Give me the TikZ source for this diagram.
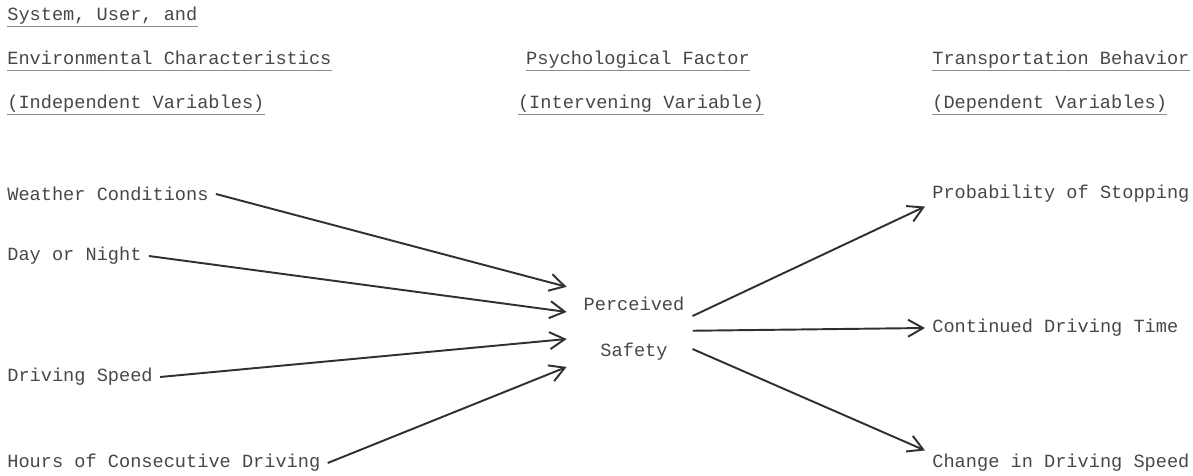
\documentclass[tikz,border=0pt]{standalone}
\usepackage{fontspec}
\setmonofont{Liberation Mono}
\usepackage{tikz}
\usetikzlibrary{arrows.meta, positioning}
\definecolor{ink}{HTML}{474747}
\definecolor{pen}{HTML}{303030}
\definecolor{rule}{HTML}{8C8C8C}

\begin{document}
\begin{tikzpicture}[x=0.02cm, y=-0.02cm,
    txt/.style={font=\ttfamily\fontsize{10.6}{12}\selectfont, text=ink},
    head/.style={txt, inner xsep=0pt, inner ysep=1pt},
    factor/.style={txt, anchor=west, inner xsep=4pt, inner ysep=2pt},
    link/.style={-{Straight Barb[length=3mm,width=3.4mm]}, pen, line width=1.1pt},
    uline/.style={rule, line width=1pt}
]
    \useasboundingbox (0,0) rectangle (1193,476);

    % column headings
    \node (h1) [head, anchor=base west] at (7,21) {System, User, and};
    \node (h2) [head, anchor=base west] at (7,65) {Environmental Characteristics};
    \node (h3) [head, anchor=base west] at (7,109) {(Independent Variables)};
    \node (h4) [head, anchor=base] at (638,65) {Psychological Factor};
    \node (h5) [head, anchor=base] at (641,109) {(Intervening Variable)};
    \node (h6) [head, anchor=base west] at (932,65) {Transportation Behavior};
    \node (h7) [head, anchor=base west] at (932,109) {(Dependent Variables)};
    \foreach \h in {h1,h2,h3,h4,h5,h6,h7}
        \draw [uline] ([yshift=-3.2pt]\h.base west) -- ([yshift=-3.2pt]\h.base east);

    % independent variables
    \node (weather) [factor] at (0,194) {Weather Conditions};
    \node (day) [factor] at (0,256) {Day or Night};
    \node (speed) [factor] at (0,377) {Driving Speed};
    \node (hours) [factor] at (0,463) {Hours of Consecutive Driving};

    % intervening variable
    \node (safety) [txt, align=center, inner xsep=9.5pt, inner ysep=2pt,
        font=\ttfamily\fontsize{10.6}{26.2}\selectfont] at (634,329) {Perceived\\Safety};
    \coordinate (in1) at ([yshift=24pt]safety.west);
    \coordinate (in2) at ([yshift=9.7pt]safety.west);
    \coordinate (in3) at ([yshift=-5.7pt]safety.west);
    \coordinate (in4) at ([yshift=-21.6pt]safety.west);
    \coordinate (out1) at ([xshift=-5pt,yshift=7.4pt]safety.east);
    \coordinate (out2) at ([xshift=-5pt,yshift=-1pt]safety.east);
    \coordinate (out3) at ([xshift=-5pt,yshift=-11.4pt]safety.east);

    % dependent variables
    \node (stop) [factor] at (925,194) {Probability of Stopping};
    \node (time) [factor] at (925,328) {Continued Driving Time};
    \node (change) [factor] at (925,463) {Change in Driving Speed};

    \draw [link] (weather.east) -- (in1);
    \draw [link] (day.east) -- (in2);
    \draw [link] (speed.east) -- (in3);
    \draw [link] (hours.east) -- (in4);

    \draw [link] (out1) -- (stop.south west);
    \draw [link] (out2) -- (time.west);
    \draw [link] (out3) -- (change.north west);
\end{tikzpicture}
\end{document}
